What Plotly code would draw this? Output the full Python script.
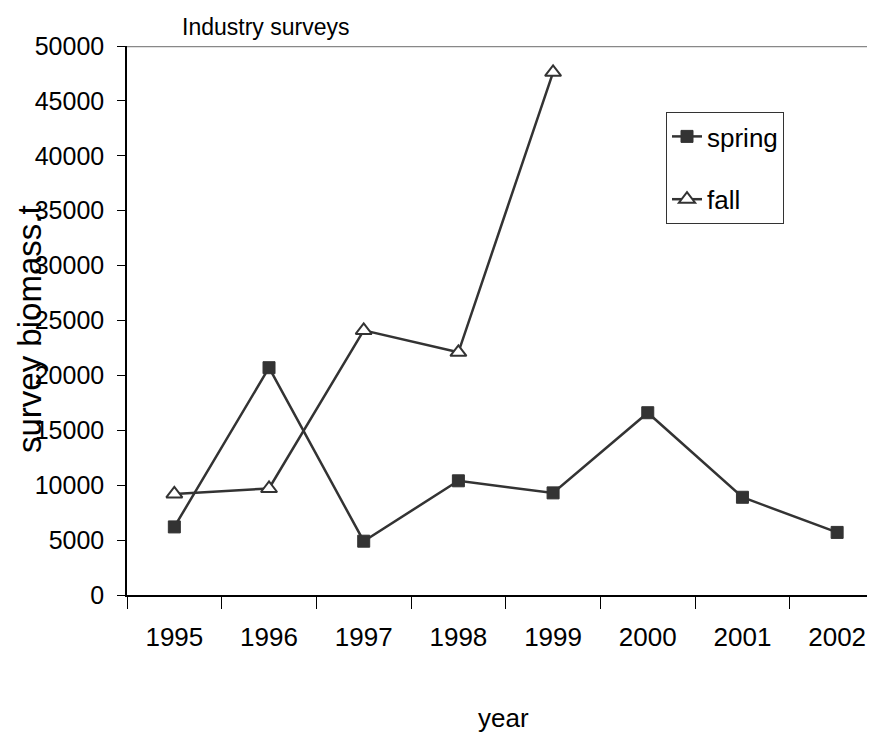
import plotly.graph_objects as go

years = ["1995", "1996", "1997", "1998", "1999", "2000", "2001", "2002"]
spring = [6200, 20700, 4900, 10400, 9300, 16600, 8900, 5700]
fall_years = ["1995", "1996", "1997", "1998", "1999"]
fall = [9200, 9700, 24100, 22100, 47600]
y_ticks = [0, 5000, 10000, 15000, 20000, 25000, 30000, 35000, 40000, 45000, 50000]

FONT = "Liberation Sans, Arial, sans-serif"
INK = "#333333"

fig = go.Figure()
fig.add_trace(go.Scatter(
    x=years, y=spring, name="spring", mode="lines+markers",
    line=dict(color=INK, width=2.5),
    marker=dict(symbol="square", size=12, color=INK, line=dict(color=INK, width=1)),
    legendgroup="a",
))
fig.add_trace(go.Scatter(
    x=fall_years, y=fall, name="fall", mode="lines+markers",
    line=dict(color=INK, width=2.5),
    marker=dict(symbol="triangle-up", size=14, color="white", line=dict(color=INK, width=2)),
    legendgroup="b",
))

# page body has an 8px default margin; compensate so the plot lands where the reference has it
OFF = 8
W, H = 875 - OFF, 740 - OFF
PL, PT, PR, PB = 127 - OFF, 46 - OFF, 875 - OFF, 595 - OFF  # plot box in figure pixels
pw = PR - PL
ph = PB - PT


def px(x):
    return (x - OFF - PL) / pw


def py(y):
    return (PB - (y - OFF)) / ph


fig.update_layout(
    width=W, height=H,
    margin=dict(l=PL, r=W - PR, t=PT, b=H - PB, autoexpand=False),
    paper_bgcolor="white", plot_bgcolor="white",
    font=dict(family=FONT, color="black", size=25),
    showlegend=True,
    legend=dict(
        x=px(666), y=py(112), xanchor="left", yanchor="top",
        bordercolor=INK, borderwidth=1, bgcolor="white",
        font=dict(size=26), tracegroupgap=26, traceorder="grouped",
    ),
    xaxis=dict(
        type="category", categoryorder="array", categoryarray=years,
        range=[-0.5, 7.4], showgrid=False, showline=True, linecolor="black", linewidth=2,
        ticks="outside", tickson="boundaries", ticklen=12, tickcolor="black", tickwidth=1,
        ticklabelstandoff=18, tickfont=dict(size=26), zeroline=False, automargin=False,
    ),
    yaxis=dict(
        range=[0, 50000], tickvals=y_ticks, ticktext=[str(v) for v in y_ticks],
        showgrid=False, showline=True, linecolor="black", linewidth=1.5,
        ticks="outside", ticklen=8, tickcolor="black", tickwidth=1,
        ticklabelstandoff=8, tickfont=dict(size=25), zeroline=False, automargin=False,
    ),
    shapes=[dict(type="line", xref="x domain", yref="y", x0=0, x1=1, y0=50000, y1=50000,
                 line=dict(color="#888888", width=2.5))],
    annotations=[
        dict(text="Industry surveys", xref="paper", yref="paper",
             x=px(180), y=py(27), xanchor="left", yanchor="middle",
             showarrow=False, font=dict(size=23)),
        dict(text="survey biomass.t", xref="paper", yref="paper",
             x=px(29), y=py(329), xanchor="center", yanchor="middle",
             textangle=-90, showarrow=False, font=dict(size=33)),
        dict(text="year", xref="paper", yref="paper",
             x=px(503), y=py(718), xanchor="center", yanchor="middle",
             showarrow=False, font=dict(size=26)),
    ],
)

fig.write_html("out.html")
